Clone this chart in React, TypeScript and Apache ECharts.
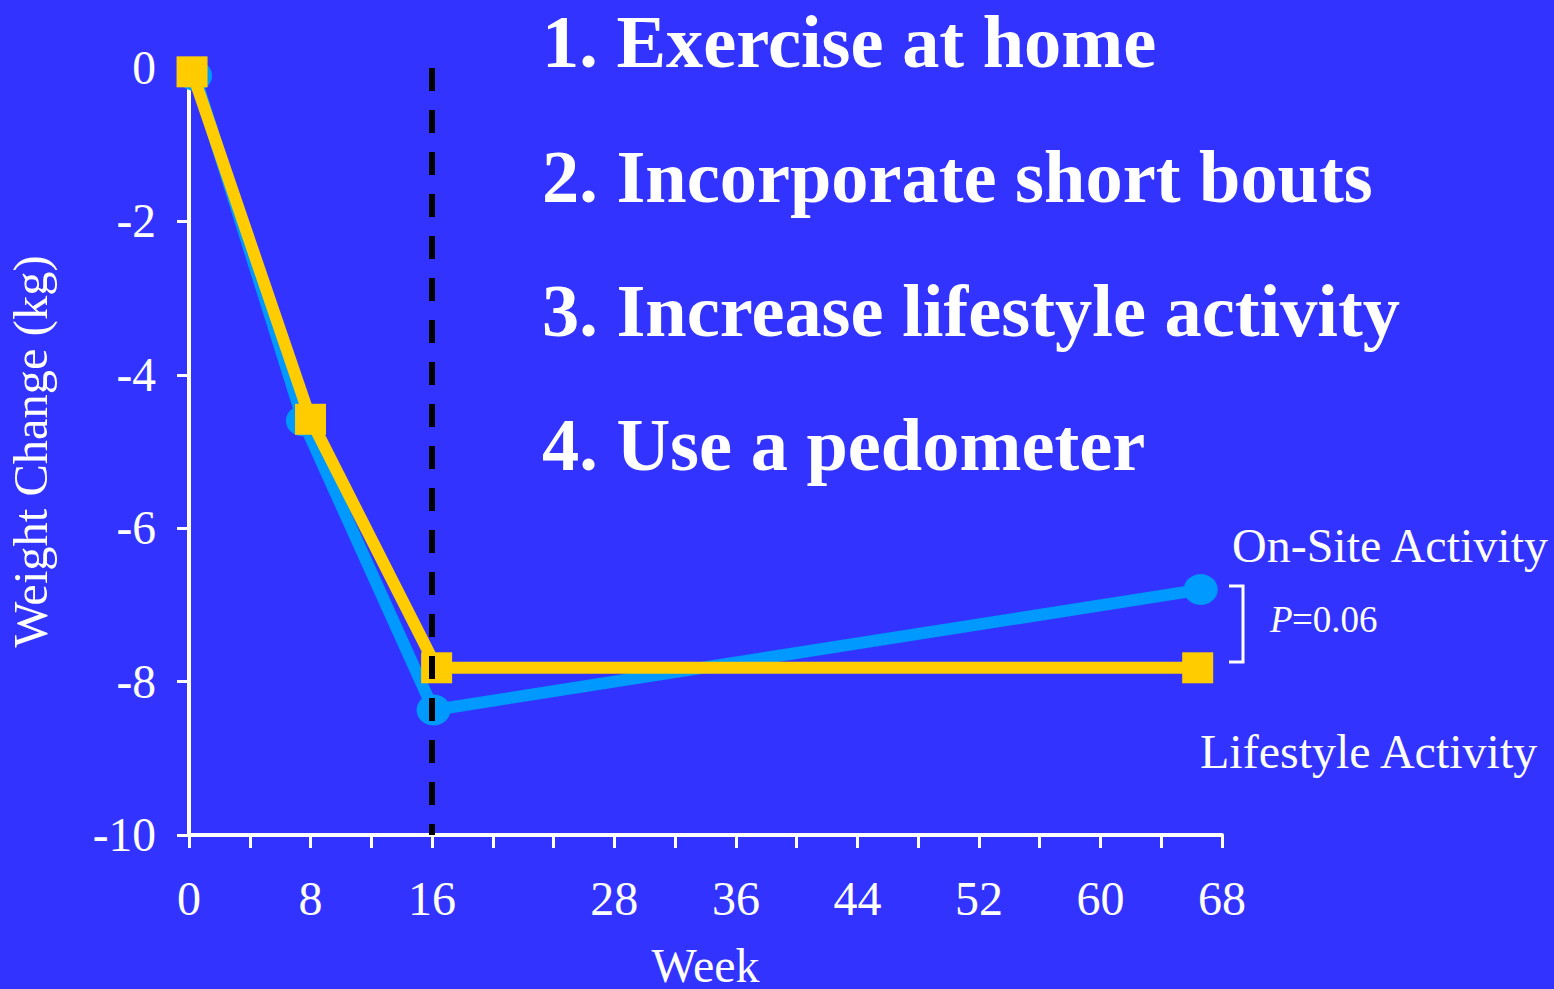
import React, { useEffect, useRef } from "react";
import * as echarts from "echarts";

// ---- data ----
const weekTicks = [0, 8, 16, 28, 36, 44, 52, 60, 68];
const onSiteWeeks = [0.4, 7.5, 16.1, 66.6];
const onSiteChange = [-0.1, -4.6, -8.37, -6.8];
const lifestyleWeeks = [0.2, 8.0, 16.3, 66.4];
const lifestyleChange = [-0.05, -4.58, -7.82, -7.82];
const phaseBoundaryWeek = 16;
const yMin = -10;
const yMax = 0;
const strategies = [
  "1. Exercise at home",
  "2. Incorporate short bouts",
  "3. Increase lifestyle activity",
  "4. Use a pedometer",
];

const SERIF = "'Times New Roman', 'Liberation Serif', serif";
const BG = "#3333FF";
const BLUE = "#0099FF";
const YELLOW = "#FFCC00";

export default function App() {
  const ref = useRef<HTMLDivElement>(null);

  useEffect(() => {
    document.body.style.margin = "0";
    document.body.style.overflow = "hidden";
    if (!ref.current) return;
    const chart = echarts.init(ref.current, undefined, { renderer: "svg" });

    const strategyBaselines = [67, 202, 336, 470];
    const graphics: any[] = strategies.map((t, i) => ({
      type: "text",
      x: 542,
      y: strategyBaselines[i] - 0.338 * 74.4,
      style: {
        text: t,
        fill: "#ffffff",
        fontSize: 74.4,
        fontWeight: "bold",
        fontFamily: SERIF,
        align: "left",
        verticalAlign: "middle",
      },
    }));

    graphics.push(
      {
        type: "text",
        x: 1232,
        y: 562 - 0.338 * 48,
        style: {
          text: "On-Site Activity",
          fill: "#ffffff",
          fontSize: 48,
          fontFamily: SERIF,
          align: "left",
          verticalAlign: "middle",
        },
      },
      {
        type: "text",
        x: 1200,
        y: 768 - 0.338 * 48,
        style: {
          text: "Lifestyle Activity",
          fill: "#ffffff",
          fontSize: 48,
          fontFamily: SERIF,
          align: "left",
          verticalAlign: "middle",
        },
      },
      {
        type: "text",
        x: 1270,
        y: 632 - 0.338 * 37,
        style: {
          text: "P",
          fill: "#ffffff",
          fontSize: 37,
          fontStyle: "italic",
          fontFamily: SERIF,
          align: "left",
          verticalAlign: "middle",
        },
      },
      {
        type: "text",
        x: 1292,
        y: 632 - 0.338 * 37,
        style: {
          text: "=0.06",
          fill: "#ffffff",
          fontSize: 37,
          fontFamily: SERIF,
          align: "left",
          verticalAlign: "middle",
        },
      },
      {
        type: "polyline",
        shape: {
          points: [
            [1229, 586],
            [1243, 586],
            [1243, 662],
            [1229, 662],
          ],
        },
        style: { stroke: "#ffffff", lineWidth: 3, fill: "none" },
      }
    );

    chart.setOption({
      animation: false,
      backgroundColor: BG,
      grid: {
        left: 189,
        right: 332,
        top: 68,
        bottom: 154,
        containLabel: false,
        outerBoundsMode: "none",
      },
      xAxis: {
        type: "value",
        min: 0,
        max: 68,
        interval: 4,
        name: "Week",
        nameLocation: "middle",
        nameGap: 106,
        nameTextStyle: { color: "#ffffff", fontSize: 48, fontFamily: SERIF },
        axisLine: { show: true, onZero: false, lineStyle: { color: "#ffffff", width: 4 } },
        axisTick: { show: true, length: 13, lineStyle: { color: "#ffffff", width: 3 } },
        axisLabel: {
          color: "#ffffff",
          fontSize: 48,
          fontFamily: SERIF,
          margin: 39,
          showMinLabel: true,
          showMaxLabel: true,
          formatter: (v: number) => (weekTicks.includes(v) ? String(v) : ""),
        },
        splitLine: { show: false },
      },
      yAxis: {
        type: "value",
        min: yMin,
        max: yMax,
        interval: 2,
        name: "Weight Change (kg)",
        nameLocation: "middle",
        nameRotate: 90,
        nameGap: 134,
        nameTextStyle: { color: "#ffffff", fontSize: 48.5, fontFamily: SERIF },
        axisLine: { show: true, onZero: false, lineStyle: { color: "#ffffff", width: 4 } },
        axisTick: { show: true, length: 12, lineStyle: { color: "#ffffff", width: 3 } },
        axisLabel: { color: "#ffffff", fontSize: 47.5, fontFamily: SERIF, margin: 33 },
        splitLine: { show: false },
      },
      series: [
        {
          name: "On-Site Activity",
          type: "line",
          data: onSiteWeeks.map((w, i) => [w, onSiteChange[i]]),
          symbol: "circle",
          symbolSize: [34, 31],
          showAllSymbol: true,
          lineStyle: { color: BLUE, width: 12 },
          itemStyle: { color: BLUE },
          z: 2,
          markLine: {
            silent: true,
            symbol: ["none", "none"],
            label: { show: false },
            lineStyle: { color: "#000000", width: 6, type: [23, 19] },
            data: [
              [
                { coord: [phaseBoundaryWeek, yMax] },
                { coord: [phaseBoundaryWeek, yMin] },
              ],
            ],
          },
        },
        {
          name: "Lifestyle Activity",
          type: "line",
          data: lifestyleWeeks.map((w, i) => [w, lifestyleChange[i]]),
          symbol: "rect",
          symbolSize: [31, 31],
          showAllSymbol: true,
          lineStyle: { color: YELLOW, width: 12 },
          itemStyle: { color: YELLOW },
          z: 3,
        },
      ],
      graphic: graphics,
    });

    return () => chart.dispose();
  }, []);

  return <div ref={ref} style={{ width: 1554, height: 989 }} />;
}
